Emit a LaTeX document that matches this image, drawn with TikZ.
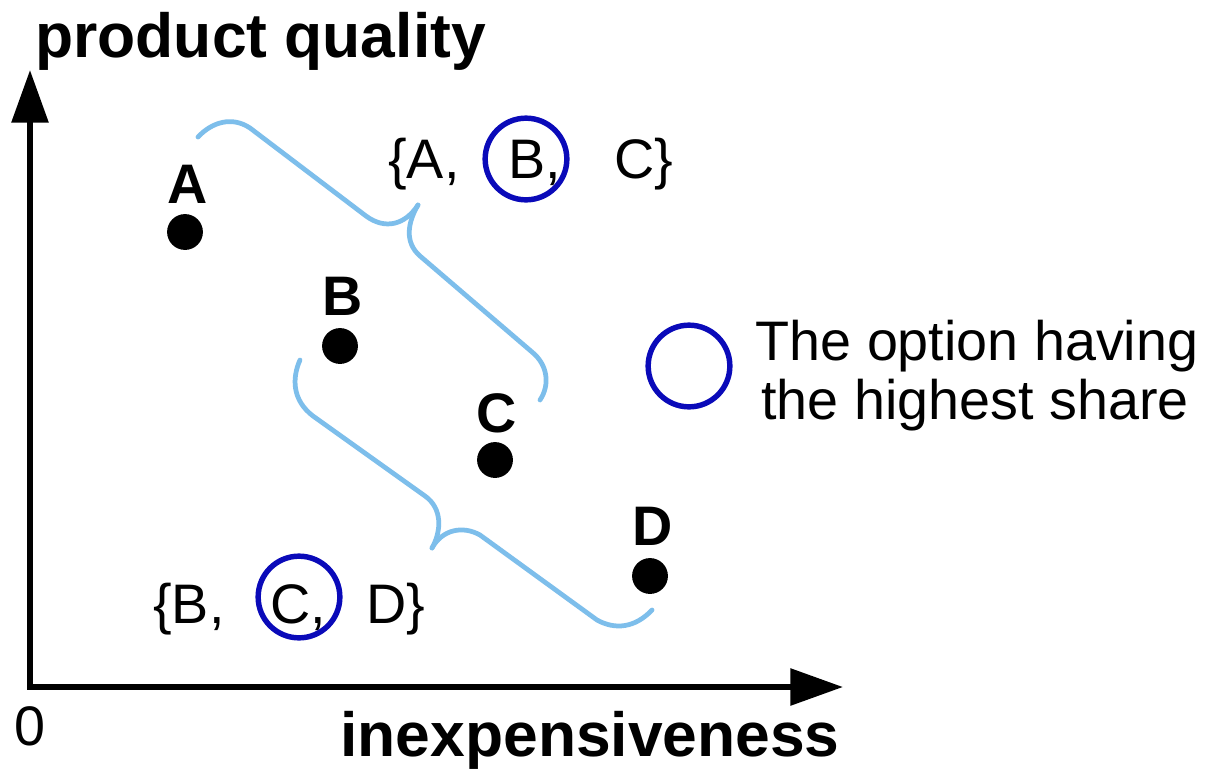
\documentclass[tikz,border=0pt]{standalone}
\usepackage{fontspec}
\setmainfont{Liberation Sans}
\usetikzlibrary{arrows.meta}
\definecolor{ringblue}{RGB}{10,10,185}
\definecolor{bracecol}{RGB}{125,190,235}
\begin{document}
\begin{tikzpicture}[x=0.02cm,y=-0.02cm,
  axis/.style={line width=3.4pt, {Triangle[length=30pt,width=20.5pt]}-{Triangle[length=30pt,width=20.5pt]}},
  dot/.style={circle,fill=black,inner sep=0pt,minimum size=20.4pt},
  lbl/.style={font=\fontsize{31.7}{36}\selectfont\bfseries, inner sep=0pt, anchor=base},
  txt/.style={font=\fontsize{31.7}{36}\selectfont, inner sep=0pt, anchor=base west},
  axlbl/.style={font=\fontsize{35.5}{40}\selectfont\bfseries, inner sep=0pt},
  ring/.style={circle, draw=ringblue, line width=3.1pt, minimum size=46.5pt, inner sep=0pt},
  bracepath/.style={draw=bracecol, line width=2.7pt, line cap=round, line join=round}]
\useasboundingbox (0,0) rectangle (1213,771);
\fill[white] (0,0) rectangle (1213,771);

% axes
\coordinate (O) at (30,687);
\coordinate (ytip) at (30,70);
\coordinate (xtip) at (843,687);
\draw[axis] (ytip) -- (O) -- (xtip);
\node[axlbl, anchor=base west] (ylabel) at (35,57) {product quality};
\node[axlbl, anchor=base east] (xlabel) at (840,756) {inexpensiveness};
\node[txt] (zero) at (14,745) {0};

% points
\node[dot] (A) at (185,232) {};
\node[dot] (B) at (340,346) {};
\node[dot] (C) at (495,460) {};
\node[dot] (D) at (650,576) {};
\node[lbl] (Alab) at (188,203) {A};
\node[lbl] (Blab) at (343,315) {B};
\node[lbl] (Clab) at (497,432) {C};
\node[lbl] (Dlab) at (653,545) {D};

% braces
\draw[bracepath] (198,137) .. controls (212,122) and (232,116) .. (250,128)
  -- (366,216) .. controls (385,230) and (405,225) .. (418,205);
\draw[bracepath] (418,205) .. controls (408,222) and (404,242) .. (420,256)
  -- (532,352) .. controls (548,365) and (550,385) .. (540,400);
\draw[bracepath] (300,360) .. controls (292,378) and (292,400) .. (313,416)
  -- (425,496) .. controls (442,508) and (442,530) .. (432,548);
\draw[bracepath] (432,548) .. controls (442,530) and (462,525) .. (480,535)
  -- (597,620) .. controls (615,630) and (635,628) .. (652,610);

% choice sets
\node[txt] (s1a) at (388,178) {\{A,};
\node[txt] (s1b) at (508,178) {B,};
\node[txt] (s1c) at (614,178) {C\}};
\node[ring] (r1) at (526,159) {};

\node[txt] (s2a) at (153,623) {\{B,};
\node[txt] (s2b) at (270,623) {C,};
\node[txt] (s2c) at (366,623) {D\}};
\node[ring] (r2) at (299,597) {};

% legend
\node[ring] (r3) at (689,366) {};
\node[txt, anchor=base] (leg1) at (977,360) {The option having};
\node[txt, anchor=base] (leg2) at (975,419) {the highest share};
\end{tikzpicture}
\end{document}
